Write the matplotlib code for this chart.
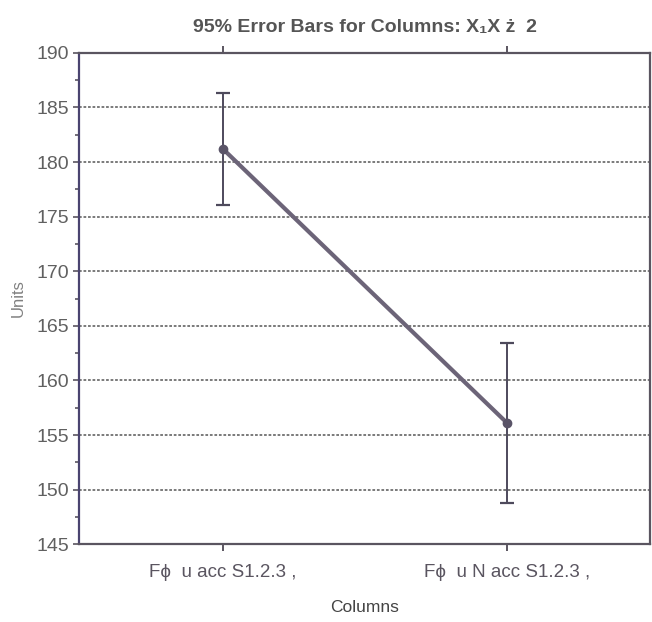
import numpy as np
import matplotlib.pyplot as plt
from matplotlib.ticker import MultipleLocator
from matplotlib.transforms import ScaledTranslation

# group means and 95% half-widths
columns = ["F\u03d5  u acc S1.2.3 ,", "F\u03d5  u N acc S1.2.3 ,"]
means = [181.2, 156.1]
ci95 = [5.1, 7.3]
yticks = [145, 150, 155, 160, 165, 170, 175, 180, 185, 190]

narrow = ["Liberation Sans", "DejaVu Sans"]
ink = "#5a5560"
text_col = "#606060"

fig = plt.figure(figsize=(6.52, 6.22), dpi=100)
ax = fig.add_axes([0.121, 0.125, 0.876, 0.790])

x = np.arange(len(columns))
ax.plot(x, means, color="#6c6478", lw=3, solid_capstyle="round", zorder=3)
ax.errorbar(x, means, yerr=ci95, fmt="none", ecolor="#4e4a5c",
            elinewidth=1.4, capsize=5, capthick=1.6, zorder=4)
ax.plot(x, means, "o", color="#5a5468", ms=6, zorder=5)

ax.set_xlim(-0.507, 1.503)
ax.set_ylim(145, 190)
ax.set_yticks(yticks)
ax.yaxis.set_minor_locator(MultipleLocator(2.5))
ax.set_xticks(x)
ax.set_xticklabels(columns, family=narrow, fontsize=13.5, color="#444444")
for lbl in ax.get_xticklabels():
    lbl.set_transform(lbl.get_transform() + ScaledTranslation(-0.4, 0, fig.dpi_scale_trans))

# wavy-looking grid at the inner major ticks
for v in yticks[1:-1]:
    ax.axhline(v, color="#707070", lw=1.3, ls=(0, (1.5, 1)), zorder=1)

ax.tick_params(axis="y", which="major", direction="out", length=4, width=1.2,
               colors=ink, labelcolor=text_col, labelsize=14, pad=3)
ax.tick_params(axis="y", which="minor", direction="out", length=3, width=1.2, colors=ink)
ax.tick_params(axis="x", which="major", direction="out", length=5, width=1.4,
               colors=ink, top=True, pad=9)
for lbl in ax.get_yticklabels():
    lbl.set_family(narrow)

for side in ["left", "right", "top", "bottom"]:
    ax.spines[side].set_color(ink)
    ax.spines[side].set_linewidth(1.6)
ax.spines["left"].set_color("#4a4470")

ax.set_xlabel("Columns", family=narrow, fontsize=12.5, color="#444444", labelpad=14)
ax.set_ylabel("Units", family=narrow, fontsize=12, color="#808080", labelpad=8)
ax.set_title("95% Error Bars for Columns: X\u2081X \u017c  2", family=narrow,
             fontsize=14, fontweight="bold", color="#555555", pad=15)

fig.savefig("out.png", dpi=100)
